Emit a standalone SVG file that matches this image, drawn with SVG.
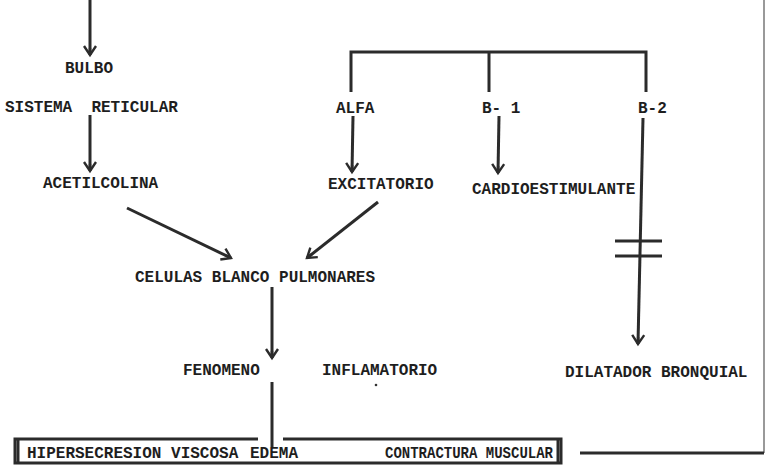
<svg xmlns="http://www.w3.org/2000/svg" width="767" height="474" viewBox="0 0 767 474">
<style>
  text { font-family: "Liberation Mono", "DejaVu Sans Mono", monospace; font-size: 16px; font-weight: bold; fill: #1e1e1e; }
  .ln { stroke: #2b2b2b; stroke-width: 3; fill: none; }
  .thin { stroke: #555; stroke-width: 1.2; fill: none; }
  .arr { marker-end: url(#ah); }
</style>
<defs>
  <marker id="ah" markerUnits="userSpaceOnUse" markerWidth="20" markerHeight="20" refX="0" refY="0" viewBox="-12 -10 16 20" orient="auto">
    <path d="M-9,-6 L0,0 L-9,6 M-7,0 L0,0" stroke="#2b2b2b" stroke-width="2.4" fill="none" stroke-linejoin="miter"/>
  </marker>
</defs>
<rect width="767" height="474" fill="#ffffff"/>

<g id="connectors">
  <line class="ln arr" x1="90" y1="0" x2="90" y2="55"/>
  <line class="ln arr" x1="90" y1="115" x2="90" y2="171"/>
  <path class="ln" d="M351,92 V52 H646 V92 M489,52 V92"/>
  <line class="ln arr" x1="353" y1="116" x2="352" y2="172"/>
  <line class="ln arr" x1="499" y1="116" x2="498" y2="173"/>
  <line class="ln arr" x1="643" y1="118" x2="638" y2="344"/>
  <line class="ln" x1="615" y1="241" x2="662" y2="241"/>
  <line class="ln" x1="615" y1="256" x2="662" y2="256"/>
  <line class="ln arr" x1="127" y1="208" x2="231" y2="258"/>
  <line class="ln arr" x1="378" y1="202" x2="307" y2="258"/>
  <line class="ln arr" x1="272" y1="287" x2="272" y2="358"/>
  <line class="ln" x1="272" y1="382" x2="272" y2="447"/>
  <line class="thin" x1="764" y1="0" x2="764" y2="453"/>
  <line class="ln" x1="580" y1="453" x2="764" y2="453" stroke-width="2"/>
</g>

<g id="bulbo"><text x="65" y="73">BULBO</text></g>
<g id="sistema-reticular"><text x="5" y="112" xml:space="preserve">SISTEMA  RETICULAR</text></g>
<g id="acetilcolina"><text x="43" y="188">ACETILCOLINA</text></g>
<g id="alfa"><text x="336" y="113">ALFA</text></g>
<g id="b1"><text x="482" y="113" xml:space="preserve">B- 1</text></g>
<g id="b2"><text x="638" y="113">B-2</text></g>
<g id="excitatorio"><text x="328" y="189">EXCITATORIO</text></g>
<g id="cardioestimulante"><text x="472" y="194">CARDIOESTIMULANTE</text></g>
<g id="celulas"><text x="135" y="282">CELULAS BLANCO PULMONARES</text></g>
<g id="fenomeno"><text x="183" y="375">FENOMENO</text><text x="322" y="375">INFLAMATORIO</text><circle cx="376" cy="385" r="1.3" fill="#333"/></g>
<g id="dilatador"><text x="565" y="377">DILATADOR BRONQUIAL</text></g>
<g id="efectos">
  <path class="ln" d="M258,439 H15 V463 H561 V439 H283" stroke-width="2.2"/>
  <line class="ln" x1="18" y1="440" x2="18" y2="462" stroke-width="1.2"/>
  <line class="ln" x1="558" y1="440" x2="558" y2="462" stroke-width="1.2"/>
  <text x="27" y="458">HIPERSECRESION VISCOSA</text>
  <text x="250" y="458">EDEMA</text>
  <text x="385" y="458" textLength="168" lengthAdjust="spacingAndGlyphs">CONTRACTURA MUSCULAR</text>
</g>
</svg>
